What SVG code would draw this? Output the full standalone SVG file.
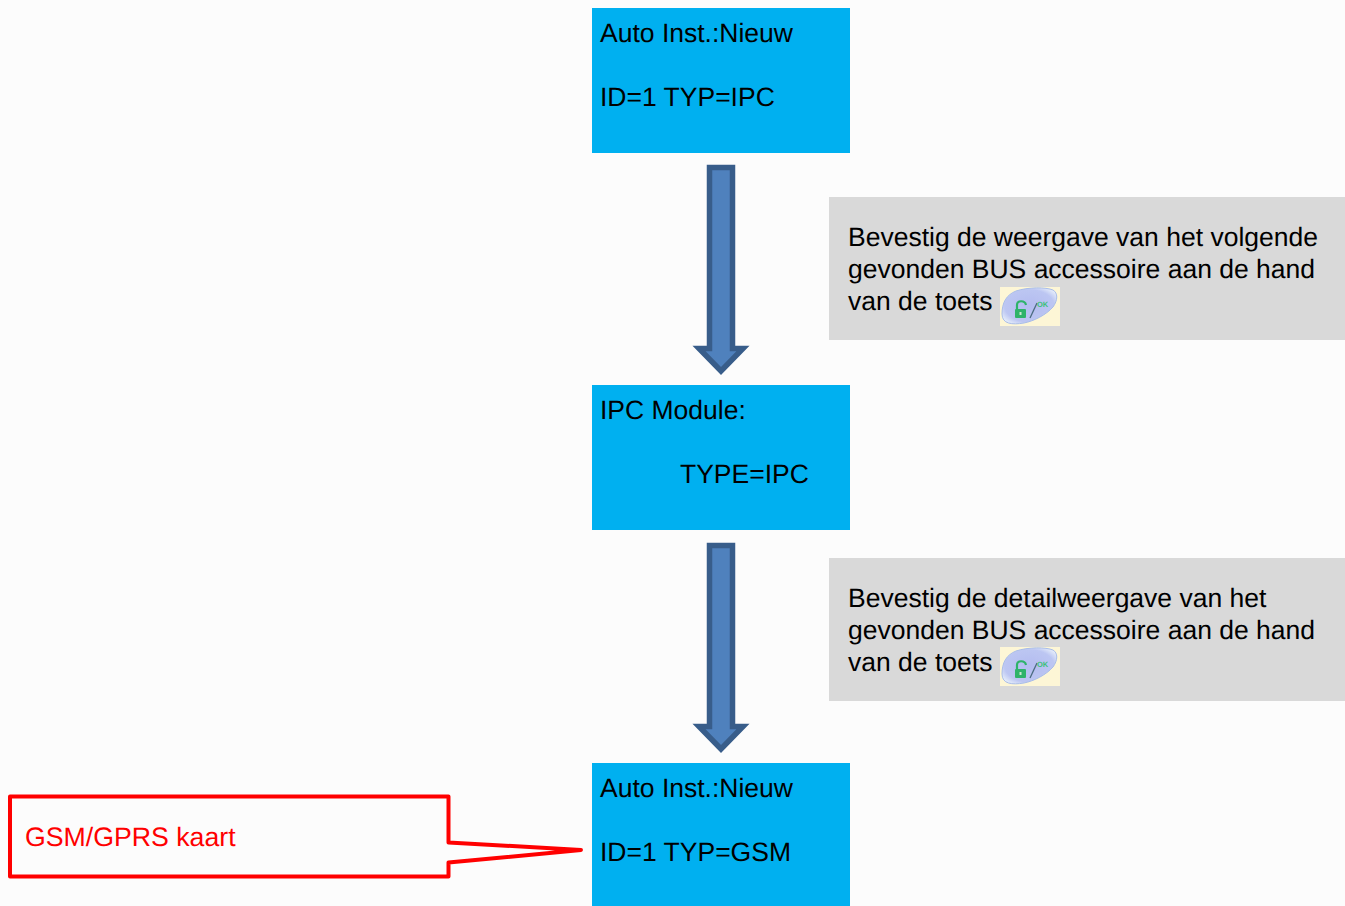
<svg xmlns="http://www.w3.org/2000/svg" width="1345" height="906" viewBox="0 0 1345 906">
<style>
text{font-family:"Liberation Sans",Arial,sans-serif;font-size:26.5px;fill:#000;text-rendering:geometricPrecision}
.blue{fill:#00b0f0}
.grey{fill:#d9d9d9}
.arr{fill:#4f81bd;stroke:#385d8a;stroke-width:5.5;stroke-linejoin:miter}
.red{fill:none;stroke:#f00;stroke-width:4;stroke-linejoin:round}
</style>
<defs>
<radialGradient id="btn" cx="0.5" cy="0.5" r="0.6"><stop offset="0" stop-color="#b4bcf0"/><stop offset="0.75" stop-color="#bcc6f2"/><stop offset="1" stop-color="#e4ecfa"/></radialGradient>
<filter id="soft" x="-5%" y="-5%" width="110%" height="110%"><feGaussianBlur stdDeviation="0.5"/></filter>
<g id="okkey">
<rect x="0" y="0" width="60" height="39" fill="#fdf6d6"/>
<g filter="url(#soft)">
<path d="M2 27C2 16 6 8 16 4C28 0 46 0 53 3C58 6 58 13 53 20C46 28 34 34 24 36C12 38 2 37 2 27Z" fill="url(#btn)" stroke="#a8bce8" stroke-width="1"/>
<rect x="15" y="22" width="11" height="9" rx="1" fill="#2fb36a"/>
<path d="M17 22V18C17 13 25 13 26 18" fill="none" stroke="#2fb36a" stroke-width="2.2"/>
<rect x="19.500" y="25" width="2" height="3" fill="#c8e8d0"/>
<path d="M30 31L37 16" stroke="#4a6a80" stroke-width="1.3" fill="none"/>
</g>
<text x="37" y="20" style="font-size:7.500px;font-weight:bold;fill:#3cc07a">OK</text>
</g>
</defs>
<rect width="1345" height="906" fill="#fcfcfc"/>
<g id="connectors">
<path class="arr" d="M709.500 167.500H732.500V348.500H743L721 371L699 348.500H709.500Z"/>
<path class="arr" d="M709.500 545.500H732.500V726.500H743L721 749L699 726.500H709.500Z"/>
</g>
<g id="node-auto-inst-ipc">
<rect class="blue" x="592" y="8" width="258" height="145"/>
<text x="600" y="42">Auto Inst.:Nieuw</text>
<text x="600" y="106">ID=1 TYP=IPC</text>
</g>
<g id="node-ipc-module">
<rect class="blue" x="592" y="385" width="258" height="145"/>
<text x="600" y="419">IPC Module:</text>
<text x="680" y="483">TYPE=IPC</text>
</g>
<g id="node-auto-inst-gsm">
<rect class="blue" x="592" y="763" width="258" height="143"/>
<text x="600" y="797">Auto Inst.:Nieuw</text>
<text x="600" y="861">ID=1 TYP=GSM</text>
</g>
<g id="note-1">
<rect class="grey" x="829" y="197" width="516" height="143"/>
<text x="848" y="246">Bevestig de weergave van het volgende</text>
<text x="848" y="278">gevonden BUS accessoire aan de hand</text>
<text x="848" y="310">van de toets</text>
<use href="#okkey" x="1000" y="287"/>
</g>
<g id="note-2">
<rect class="grey" x="829" y="558" width="516" height="143"/>
<text x="848" y="607">Bevestig de detailweergave van het</text>
<text x="848" y="639">gevonden BUS accessoire aan de hand</text>
<text x="848" y="671">van de toets</text>
<use href="#okkey" x="1000" y="647"/>
</g>
<g id="callout-gsm">
<path class="red" d="M10 796.500H448.500V842.500L581 850L448.500 862.500V876.500H10Z"/>
<text x="25" y="846" style="fill:#f00;font-size:26.700px">GSM/GPRS kaart</text>
</g>
</svg>
